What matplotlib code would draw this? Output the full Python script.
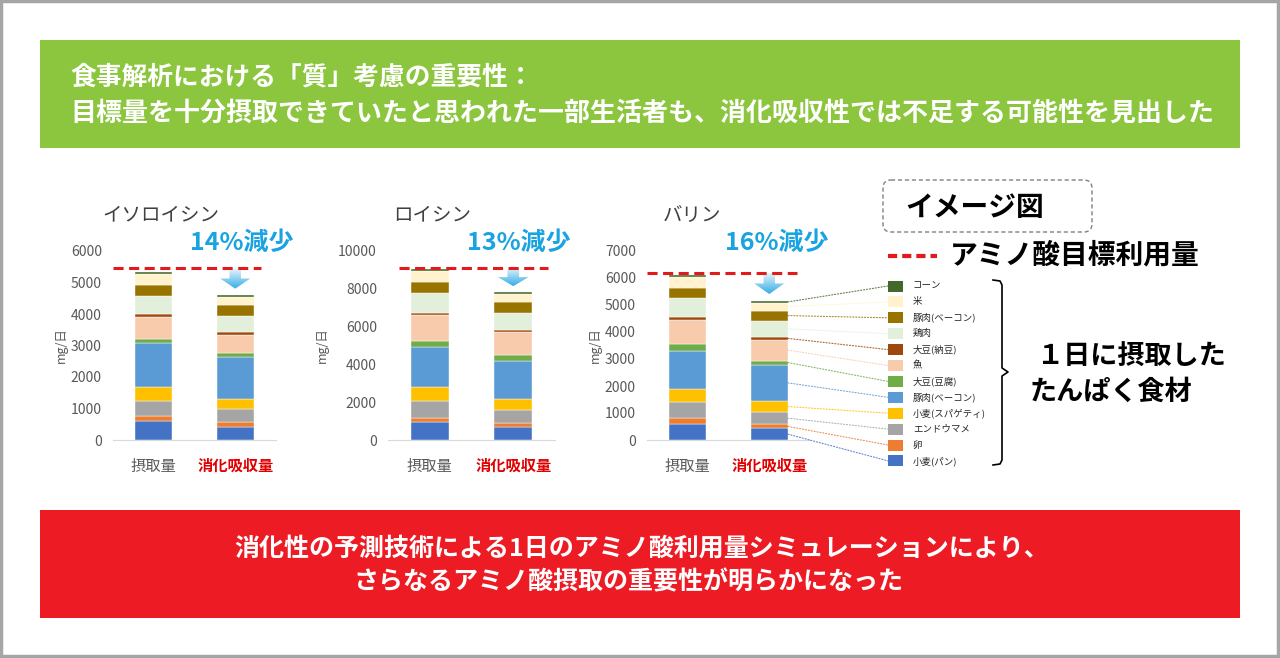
import numpy as np
import matplotlib
matplotlib.use('Agg')
import matplotlib.pyplot as plt
from matplotlib.patches import Rectangle, Polygon, FancyBboxPatch, ConnectionPatch
from matplotlib.colors import LinearSegmentedColormap

plt.rcParams['font.family'] = ['Noto Sans CJK JP', 'DejaVu Sans']

# foods, stacked from bottom to top
foods = ['小麦(パン)', '卵', 'エンドウマメ', '小麦(スパゲティ)', '豚肉(ベーコン)', '大豆(豆腐)',
         '魚', '大豆(納豆)', '鶏肉', '豚肉(ベーコン)', '米', 'コーン']
food_colors = ['#4472C4', '#ED7D31', '#A5A5A5', '#FFC000', '#5B9BD5', '#70AD47',
               '#F8CBAD', '#9E480E', '#E2EFDA', '#997300', '#FFF2CC', '#43682B']

bar_labels = ['摂取量', '消化吸収量']

# mg/day per food (intake, absorbed)
iso_intake = [590, 180, 480, 440, 1380, 150, 680, 90, 580, 350, 360, 60]
iso_absorbed = [425, 135, 415, 330, 1320, 140, 580, 75, 530, 340, 255, 45]
leu_intake = [940, 250, 880, 740, 2110, 320, 1360, 140, 1030, 570, 600, 120]
leu_absorbed = [670, 215, 725, 585, 2000, 315, 1190, 120, 925, 565, 425, 85]
val_intake = [610, 210, 590, 490, 1410, 230, 910, 95, 715, 380, 400, 75]
val_absorbed = [430, 145, 465, 395, 1360, 145, 775, 95, 615, 365, 295, 60]

amino_names = ['イソロイシン', 'ロイシン', 'バリン']
targets = [5450, 9100, 6190]
reductions = ['14%減少', '13%減少', '16%減少']
y_max = [6000, 10000, 7000]
y_step = [1000, 2000, 1000]

W, H = 1280, 658
fig = plt.figure(figsize=(12.8, 6.58), dpi=100)

def box(x0, y0, x1, y1):
    return [x0 / W, 1 - y1 / H, (x1 - x0) / W, (y1 - y0) / H]

# background layer in pixel coordinates
bg = fig.add_axes([0, 0, 1, 1])
bg.set_xlim(0, W)
bg.set_ylim(H, 0)
bg.axis('off')

bg.add_patch(Rectangle((1, 1), W - 3, H - 3, fill=False, edgecolor='#A6A6A6', lw=2.5))
bg.add_patch(Rectangle((40, 40), 1200, 108, color='#8CC63F', lw=0))
bg.add_patch(Rectangle((40, 510), 1200, 108, color='#ED1C24', lw=0))

bg.text(70, 77, '食事解析における「質」考慮の重要性：', color='white', fontsize=18.5,
        fontweight='bold', va='center', ha='left')
bg.text(70, 113, '目標量を十分摂取できていたと思われた一部生活者も、消化吸収性では不足する可能性を見出した',
        color='white', fontsize=18.7, fontweight='bold', va='center', ha='left')
bg.text(642, 549, '消化性の予測技術による1日のアミノ酸利用量シミュレーションにより、',
        color='white', fontsize=18, fontweight='bold', va='center', ha='center')
bg.text(628, 582, 'さらなるアミノ酸摂取の重要性が明らかになった',
        color='white', fontsize=18, fontweight='bold', va='center', ha='center')

# charts
chart_x = [(113, 276), (388, 555), (647, 810)]
title_x = [102, 393, 663]
red_x = [190, 467, 725]
ylab_x = [61, 322, 595]
line_span = [(0, 0.91), (0.066, 0.96), (0, 0.92)]
data = [(iso_intake, iso_absorbed), (leu_intake, leu_absorbed), (val_intake, val_absorbed)]

grad_cmap = LinearSegmentedColormap.from_list('arrow', ['#EAF6FC', '#33ADE6'])
width = 0.46
axes = []
for k in range(3):
    x0, x1 = chart_x[k]
    ax = fig.add_axes(box(x0, 251, x1, 440))
    ax.set_facecolor('none')
    intake, absorbed = data[k]
    bottoms = np.zeros(2)
    for i in range(len(foods)):
        vals = np.array([intake[i], absorbed[i]])
        ax.bar([0, 1], vals, width=width, bottom=bottoms, color=food_colors[i],
               edgecolor='white', linewidth=0.3, zorder=2)
        bottoms += vals

    tot = bottoms[1]
    top = targets[k]
    tip = tot + 0.25 * (top - tot)
    neck = (top + tip) / 2
    sw, hw = 0.07, 0.185
    poly = Polygon([(1 - sw, top), (1 + sw, top), (1 + sw, neck), (1 + hw, neck), (1, tip),
                    (1 - hw, neck), (1 - sw, neck)], closed=True, facecolor='none',
                   edgecolor='none')
    ax.add_patch(poly)
    im = ax.imshow(np.linspace(0, 1, 100).reshape(-1, 1), extent=(1 - hw, 1 + hw, tip, top),
                   cmap=grad_cmap, aspect='auto', zorder=3)
    im.set_clip_path(poly)

    ax.axhline(targets[k], xmin=line_span[k][0], xmax=line_span[k][1], color='#E31A1C',
               lw=2.2, dashes=(3.3, 1.8), zorder=4)

    ax.set_xlim(-0.5, 1.5)
    ax.set_ylim(0, y_max[k])
    ax.set_yticks(np.arange(0, y_max[k] + 1, y_step[k]))
    ax.set_xticks([0, 1])
    ax.set_xticklabels(bar_labels)
    ax.tick_params(axis='y', length=0, pad=8, labelsize=10, labelcolor='#595959')
    ax.tick_params(axis='x', length=0, pad=13, labelsize=11)
    xt = ax.get_xticklabels()
    xt[0].set_color('#595959')
    xt[1].set_color('#E00000')
    xt[1].set_fontweight('bold')
    for s in ['top', 'right', 'left']:
        ax.spines[s].set_visible(False)
    ax.spines['bottom'].set_color('#D9D9D9')

    bg.text(title_x[k], 215, amino_names[k], fontsize=14, color='#404040', va='center')
    bg.text(red_x[k], 243, reductions[k], fontsize=18, fontweight='bold', color='#19A3E1',
            va='center')
    bg.text(ylab_x[k], 345, 'mg/日', fontsize=9, color='#595959', rotation=90,
            va='center', ha='center')
    axes.append(ax)

# legend with leader lines from the valine absorbed bar
ax3 = axes[2]
cum = np.cumsum(val_absorbed)
mids = cum - np.array(val_absorbed) / 2
n = len(foods)
for k in range(n):
    i = n - 1 - k
    y = 286 + k * 15.9
    bg.add_patch(Rectangle((888, y - 5.5), 15, 11, color=food_colors[i], lw=0))
    bg.text(913, y, foods[i], fontsize=6.8, color='#262626', va='center')
    con = ConnectionPatch(xyA=(1 + width / 2, mids[i]), coordsA=ax3.transData,
                          xyB=(888, y), coordsB=bg.transData, linestyle=':', lw=0.8,
                          color=food_colors[i], alpha=0.85)
    fig.add_artist(con)

# brace
bx = [993, 1000, 1002, 1002, 1008, 1002, 1002, 1000, 993]
by = [280, 281, 285, 368, 372, 376, 460, 464, 465]
bg.plot(bx, by, color='black', lw=1.2)

# image-label box
bg.add_patch(FancyBboxPatch((883, 180), 209, 52, boxstyle='round,pad=0,rounding_size=8',
                            fill=False, edgecolor='#808080', lw=1, linestyle=(0, (3, 2))))
bg.text(975, 208, 'イメージ図', fontsize=20, fontweight='bold', color='black',
        ha='center', va='center')
bg.plot([888, 937], [256, 256], color='#E31A1C', lw=3, dashes=(2.2, 1.2))
bg.text(950, 256, 'アミノ酸目標利用量', fontsize=20, fontweight='bold', color='black',
        va='center')
bg.text(1037, 357, '１日に摂取した', fontsize=19.5, fontweight='bold', color='black', va='center')
bg.text(1030, 392, 'たんぱく食材', fontsize=19.5, fontweight='bold', color='black', va='center')

fig.savefig('out.png', dpi=100)
